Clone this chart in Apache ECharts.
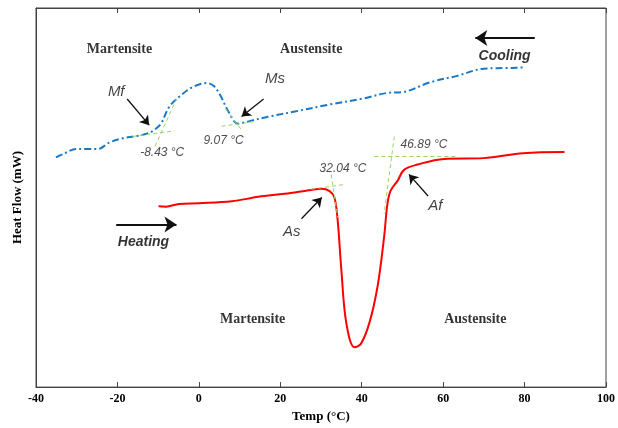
<!DOCTYPE html>
<html><head><meta charset="utf-8">
<script src="https://cdn.jsdelivr.net/npm/echarts@6/dist/echarts.min.js"></script>
<style>html,body{margin:0;padding:0;background:#fff}#c{width:618px;height:428px}</style>
</head><body><div id="c"></div>
<script>
// Cooling curve (blue dash-dot): temperature (°C), heat flow (arb. units)
const coolT = [-35.1,-33.3,-30.1,-28,-24.8,-22,-18.8,-15.4,-12.6,-11,-9.3,-7.3,-4.9,-1.6,2,3.7,5.3,7.3,9.6,12.2,17,23.6,32.4,40.7,46.3,50,56.8,63.4,70,73.2,79.7];
const coolH = [60.6,61.5,62.8,62.8,62.8,64.5,65.6,66.2,66.9,67.8,69.5,73.9,76.5,79.1,80.2,79.4,76.9,72.6,69.5,70.1,71.3,72.7,74.6,76.2,77.6,77.8,80.4,82.1,84.0,84.1,84.3];
// Heating curve (red)
const heatT = [-9.9,-8.1,-4.9,0,8.1,14.6,21.1,27.6,30.1,32.1,33.3,34.1,35,36.2,38.2,39.8,41.9,43.9,45.5,46.3,47.1,48.8,50.4,53.7,60.2,69.9,79.7,89.8];
const heatH = [47.7,47.6,48.3,48.5,49.0,50.2,51.0,52.0,52.3,51.7,50.0,43.9,30.9,17.0,10.5,11.4,17.0,26.6,39.6,48.2,51.8,54.4,57.3,58.7,60.2,60.4,61.7,62.0];
// Tangent construction lines [[T1,H1],[T2,H2]]
const tangents = [
  [[-16.3,66.1],[-6.0,67.6]], [[-10.8,63.5],[-5.5,76.0]],
  [[5.6,68.8],[13.9,70.1]], [[6.6,73.4],[10.5,67.8]],
  [[27.6,52.2],[36.1,53.5]], [[32.5,56.1],[34.1,44.8]],
  [[43.1,61.0],[63.4,60.9]], [[48.0,66.1],[45.5,45.7]]
];
// Pointer arrows
const pointers = [
  [[-17.6,76.0],[-12.2,69.1]], [[15.9,76.0],[10.5,71.4]],
  [[25.2,44.4],[30.2,50.0]], [[56.3,50.4],[51.6,56.1]]
];
const dirArrows = [ [[82.5,92.1],[67.9,92.1]], [[-20.3,42.9],[-5.5,42.9]] ];
// Text annotations [T, H, text, kind]
const notes = [
  [-19.5,89.1,'Martensite','phase'], [27.6,89.1,'Austensite','phase'],
  [13.2,17.9,'Martensite','phase'], [67.9,17.9,'Austensite','phase'],
  [75.1,87.4,'Cooling','dir'], [-13.6,38.2,'Heating','dir'],
  [-20.3,77.8,'Mf','pt'], [18.7,81.3,'Ms','pt'], [22.8,40.9,'As','pt'], [58.1,47.8,'Af','pt'],
  [-9.0,61.9,'-8.43 °C','temp'], [6.1,64.9,'9.07 °C','temp'], [35.4,57.6,'32.04 °C','temp'], [55.3,63.9,'46.89 °C','temp']
];
const xTicks = [-40,-20,0,20,40,60,80,100];

const styles = {
  phase: {fontFamily:'Liberation Serif', fontWeight:'bold', fontSize:14, color:'#000', fontStyle:'normal'},
  dir: {fontFamily:'Liberation Sans', fontWeight:'bold', fontSize:14, color:'#000', fontStyle:'italic'},
  pt: {fontFamily:'Liberation Sans', fontWeight:'normal', fontSize:15, color:'#111', fontStyle:'italic'},
  temp: {fontFamily:'Liberation Sans', fontWeight:'normal', fontSize:12, color:'#222', fontStyle:'italic'}
};
const zip = (a,b) => a.map((v,i)=>[v,b[i]]);

const chart = echarts.init(document.getElementById('c'));
chart.setOption({
  animation:false,
  grid:{left:36,right:8,top:8,bottom:36,show:true,borderColor:'#444',borderWidth:1},
  xAxis:[{
    type:'value',min:-40,max:100,interval:20,
    axisLine:{show:true,onZero:false,lineStyle:{color:'#444'}},
    axisTick:{show:true,inside:true,length:5,lineStyle:{color:'#444'}},
    splitLine:{show:false},
    axisLabel:{margin:6,color:'#000',fontFamily:'Liberation Serif',fontWeight:'bold',fontSize:12,
      formatter:v=>xTicks.includes(v)?String(v):''},
    name:'Temp (°C)',nameLocation:'middle',nameGap:22,
    nameTextStyle:{fontFamily:'Liberation Serif',fontWeight:'bold',fontSize:13,color:'#000'}
  },{
    type:'value',min:-40,max:100,interval:20,position:'top',
    axisLine:{show:true,onZero:false,lineStyle:{color:'#444'}},
    axisTick:{show:true,inside:true,length:5,lineStyle:{color:'#444'}},
    axisLabel:{show:false},splitLine:{show:false}
  }],
  yAxis:{
    type:'value',min:0,max:100,
    axisLine:{show:true,onZero:false,lineStyle:{color:'#444'}},axisTick:{show:false},axisLabel:{show:false},splitLine:{show:false},
    name:'Heat Flow (mW)',nameLocation:'middle',nameGap:12,
    nameTextStyle:{fontFamily:'Liberation Serif',fontWeight:'bold',fontSize:13,color:'#000'}
  },
  series:[
    {type:'line',data:zip(coolT,coolH),smooth:0.35,showSymbol:false,
      lineStyle:{color:'#1b78c4',width:2,type:[7,3,2,3]}},
    {type:'line',data:zip(heatT,heatH),smooth:0.35,showSymbol:false,
      lineStyle:{color:'#ff0000',width:2}},
    {type:'line',data:[],markLine:{silent:true,symbol:['none','none'],label:{show:false},
      lineStyle:{color:'#9ad26a',type:[4,3],width:1},
      data:tangents.map(s=>[{coord:s[0]},{coord:s[1]}])}},
    {type:'line',data:[],markLine:{silent:true,symbol:['none','arrow'],symbolSize:9,label:{show:false},
      lineStyle:{color:'#111',type:'solid',width:1.3},
      data:pointers.map(s=>[{coord:s[0]},{coord:s[1]}])}},
    {type:'line',data:[],markLine:{silent:true,symbol:['none','arrow'],symbolSize:12,label:{show:false},
      lineStyle:{color:'#111',type:'solid',width:2.2},
      data:dirArrows.map(s=>[{coord:s[0]},{coord:s[1]}])}},
    {type:'scatter',symbolSize:0,silent:true,
      data:notes.map(n=>({value:[n[0],n[1]],label:Object.assign({show:true,position:'inside',formatter:n[2]},styles[n[3]])}))}
  ]
});
</script></body></html>
